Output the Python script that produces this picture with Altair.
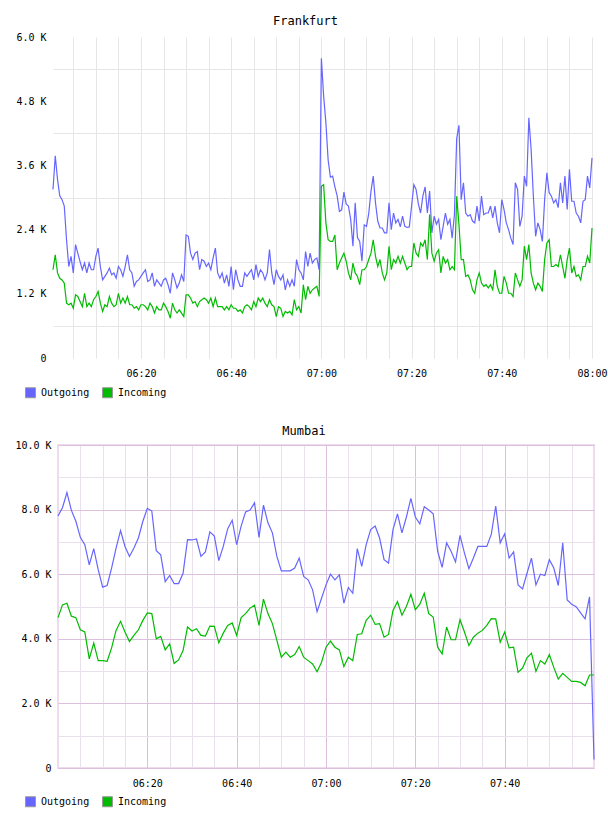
import altair as alt
import pandas as pd

SERIES = ["Outgoing", "Incoming"]
SERIES_COLORS = ["#6666ff", "#00bb00"]
FONT = "DejaVu Sans Mono"

# Frankfurt: one sample every 30 s, 06:00:30 .. 08:00:00
frankfurt_outgoing = [
    3150, 3780, 3340, 3030, 2960, 2840, 2210, 1710, 1900, 1590,
    2120, 1960, 1800, 1650, 1775, 1590, 1775, 1650, 1650, 1900,
    2055, 1710, 1460, 1525, 1590, 1680, 1555, 1590, 1490, 1710,
    1650, 1525, 1710, 1930, 1650, 1590, 1340, 1430, 1460, 1525,
    1590, 1650, 1430, 1460, 1590, 1340, 1460, 1400, 1340, 1460,
    1490, 1370, 1210, 1590, 1460, 1310, 1400, 1555, 1430, 2300,
    2275, 1960, 1840, 1960, 1990, 1650, 1840, 1810, 1710, 1775,
    1650, 1870, 2055, 1590, 1490, 1590, 1400, 1555, 1340, 1710,
    1275, 1650, 1460, 1340, 1340, 1590, 1525, 1590, 1650, 1460,
    1745, 1525, 1650, 1590, 1460, 1590, 2025, 1590, 1370, 1650,
    1525, 1460, 1555, 1275, 1460, 1340, 1460, 1340, 1840, 1650,
    1590, 1460, 1990, 1710, 1960, 1775, 1840, 1870, 1650, 5600,
    4900, 4400, 3700, 3380, 3400, 3200, 3030, 2740, 2770, 3100,
    2880, 2840, 2590, 2090, 2900, 2250, 2180, 1810, 2490, 2460,
    2700, 3120, 3400, 2900, 2560, 2430, 2430, 2340, 2340, 2900,
    2400, 2710, 2525, 2590, 2450, 2650, 2460, 2440, 2450, 2840,
    3240, 3150, 2880, 2710, 3025, 3200, 2710, 3120, 2340, 2650,
    2500, 2590, 2210, 2460, 2710, 2500, 2590, 2240, 2680, 4100,
    4350, 2960, 3275, 2710, 2650, 2680, 2560, 2525, 2840, 2560,
    3025, 2680, 2710, 2710, 2840, 2620, 2840, 2525, 2340, 2960,
    2775, 2525, 2400, 2240, 2120, 3275, 3150, 2460, 2650, 3400,
    3210, 4490, 3900, 3025, 2275, 2525, 2400, 2180, 2960, 3460,
    3090, 3025, 2900, 2960, 2810, 3275, 2900, 3400, 2775, 3525,
    2930, 2930, 2710, 2650, 2525, 2930, 2960, 3400, 3180, 3740,
]
frankfurt_incoming = [
    1650, 1930, 1590, 1490, 1460, 1400, 1025, 995, 1025, 930,
    1180, 1150, 1055, 960, 1210, 960, 1025, 960, 1090, 1150,
    1245, 1025, 870, 995, 960, 1150, 1025, 960, 995, 1210,
    1025, 1120, 1025, 1150, 995, 995, 930, 960, 900, 995,
    995, 960, 900, 1025, 960, 840, 960, 900, 900, 1025,
    960, 870, 745, 1025, 900, 840, 900, 840, 775, 1180,
    1180, 1120, 1025, 1055, 960, 1055, 1090, 1120, 1090, 1025,
    1120, 960, 1120, 960, 960, 960, 900, 960, 900, 995,
    930, 930, 870, 900, 840, 960, 995, 960, 900, 1055,
    960, 1120, 1055, 1120, 1025, 960, 1090, 995, 960, 775,
    960, 930, 775, 870, 840, 870, 805, 1090, 900, 960,
    840, 1370, 1090, 1340, 1210, 1275, 1310, 1340, 1150, 3210,
    3240, 2525, 2210, 2180, 2180, 2300, 1650, 1775, 1870, 1960,
    1810, 1590, 1460, 1775, 1590, 1525, 1370, 1650, 1650, 1710,
    1840, 1960, 2210, 1900, 1710, 1840, 1590, 1460, 1590, 2090,
    1650, 1840, 1775, 1900, 1775, 1900, 1775, 1650, 1710, 1710,
    2150, 1960, 1900, 2150, 2090, 2210, 1840, 2680, 1960, 1810,
    1960, 2025, 1590, 1900, 1775, 1840, 1650, 1710, 1650, 3025,
    2500, 1840, 1840, 1525, 1555, 1460, 1275, 1210, 1460, 1590,
    1400, 1340, 1370, 1310, 1370, 1275, 1650, 1340, 1210, 1210,
    1525, 1400, 1210, 1210, 1150, 1590, 1460, 1340, 1460, 2090,
    1840, 2120, 1590, 1400, 1275, 1400, 1340, 1245, 1840, 2150,
    2210, 1710, 1710, 1745, 1710, 1930, 1710, 1490, 1840, 2055,
    1590, 1710, 1525, 1555, 1460, 1710, 1710, 1900, 1775, 2430,
]

# Mumbai: one sample per minute, 06:00 .. 08:00
mumbai_outgoing = [
    7800, 8060, 8525, 7975, 7640, 7140, 6915, 6290, 6790, 6140,
    5600, 5650, 6190, 6810, 7350, 6860, 6550, 6810, 7120, 7640,
    8040, 7955, 6730, 6600, 5770, 5960, 5710, 5710, 6030, 7070,
    7060, 7090, 6550, 6690, 7310, 7180, 6420, 6860, 7410, 7670,
    6915, 7490, 7930, 7985, 8210, 7140, 8140, 7590, 7280, 6550,
    6105, 6105, 6105, 6190, 6500, 5930, 5825, 5515, 4840, 5255,
    5670, 6000, 5825, 5980, 5100, 5590, 5410, 6790, 6240, 6915,
    7380, 7490, 7120, 6450, 6345, 7380, 7870, 7280, 7770, 8350,
    7770, 7560, 8090, 7985, 7870, 6710, 6210, 6970, 6710, 6380,
    7205, 6655, 6170, 6500, 6860, 6860, 6860, 7230, 8110, 6970,
    7250, 6500, 6690, 5670, 5545, 6030, 6500, 5670, 6000, 5960,
    6450, 6190, 5650, 6970, 5200, 5070, 4995, 4800, 4620, 5300,
    260,
]
mumbai_incoming = [
    4655, 5050, 5100, 4700, 4655, 4280, 4210, 3380, 3865, 3325,
    3325, 3305, 3720, 4260, 4540, 4210, 3915, 4105, 4280, 4570,
    4800, 4780, 4000, 4075, 3655, 3845, 3240, 3345, 3635, 4365,
    4240, 4310, 4105, 4085, 4395, 4385, 3875, 4175, 4415, 4490,
    4105, 4655, 4780, 4950, 5040, 4415, 5230, 4780, 4470, 3950,
    3430, 3585, 3430, 3510, 3760, 3430, 3325, 3220, 2980, 3275,
    3740, 3930, 3740, 3655, 3140, 3430, 3325, 4135, 4155, 4570,
    4730, 4445, 4470, 4050, 4135, 4880, 5150, 4730, 5000, 5380,
    4900, 5070, 5410, 4780, 4675, 3740, 3530, 4365, 3970, 3970,
    4590, 4210, 3790, 4050, 4175, 4260, 4415, 4625, 4615, 3895,
    4210, 3720, 3740, 2960, 3095, 3410, 3555, 2990, 3325, 3220,
    3510, 3115, 2755, 2930, 2805, 2680, 2680, 2650, 2545, 2880,
    2880,
]


def clock(seconds):
    return (f"2024-01-01T{seconds // 3600:02d}:"
            f"{seconds % 3600 // 60:02d}:{seconds % 60:02d}Z")


frankfurt_times = [clock(6 * 3600 + 30 + 30 * i) for i in range(len(frankfurt_outgoing))]
mumbai_times = [clock(6 * 3600 + 60 * i) for i in range(len(mumbai_outgoing))]


def long_table(times, outgoing, incoming):
    return pd.DataFrame({
        "time": times + times,
        "series": ["Outgoing"] * len(times) + ["Incoming"] * len(times),
        "value": outgoing + incoming,
    })


def at(h, m, s=0):
    return alt.DateTime(year=2024, month=1, date=1, hours=h, minutes=m,
                        seconds=s, utc=True)


def five_minute_ticks(first, last):
    # minutes after 06:00
    return [at(6 + mm // 60, mm % 60) for mm in range(first, last + 1, 5)]


X_LABEL = "utcminutes(datum.value) % 20 == 0 ? utcFormat(datum.value, '%H:%M') : ''"


def k_label(step):
    return (f"datum.value % {step} == 0 ? (datum.value == 0 ? '0' : "
            "format(datum.value / 1000, '.1f') + ' K') : ''")


def series_layers(table, x, y):
    # one line per series, Outgoing underneath Incoming
    return [
        alt.Chart(table).transform_filter(alt.datum.series == name)
        .mark_line(color=col, strokeWidth=1.2).encode(x=x, y=y)
        for name, col in zip(SERIES, SERIES_COLORS)
    ]


def legend_layer(table, lx, ly):
    return alt.Chart(table).transform_filter("false").mark_square(
        size=100, stroke="#999999", strokeWidth=1, opacity=1
    ).encode(
        fill=alt.Fill(
            "series:N",
            scale=alt.Scale(domain=SERIES, range=SERIES_COLORS),
            legend=alt.Legend(
                orient="none", legendX=lx, legendY=ly, direction="horizontal",
                title=None, symbolType="square", symbolSize=100,
                symbolStrokeColor="#999999", symbolStrokeWidth=1, symbolOpacity=1,
                labelFont=FONT, labelFontSize=10, labelColor="#000000",
                labelOffset=5, columnPadding=10, padding=0,
            ),
        )
    )


# ---- Frankfurt ----
fra_table = long_table(frankfurt_times, frankfurt_outgoing, frankfurt_incoming)
FRA_GRID = "#e6e6e6"
fra_x = alt.X(
    "time:T",
    scale=alt.Scale(type="utc", domain=[at(6, 0, 30), at(8, 0)], range=[-5, 534]),
    axis=alt.Axis(values=five_minute_ticks(5, 120), labelExpr=X_LABEL,
                  grid=True, gridColor=FRA_GRID, ticks=False, domain=False,
                  labelPadding=10, labelFlush=False, labelOverlap=False, title=None),
)
fra_y = alt.Y(
    "value:Q",
    scale=alt.Scale(domain=[0, 6000], nice=False),
    axis=alt.Axis(values=list(range(0, 6001, 600)), labelExpr=k_label(1200),
                  grid=True, gridColor=FRA_GRID,
                  gridOpacity={"condition": {"test": "datum.value % 1200 == 0",
                                             "value": 0}, "value": 1},
                  ticks=False, domain=False, labelPadding=12,
                  labelOverlap=False, title=None),
)
frankfurt = alt.layer(
    *series_layers(fra_table, fra_x, fra_y), legend_layer(fra_table, -33, 350)
).properties(
    width=537, height=321,
    title=alt.Title("Frankfurt", font=FONT, fontSize=12, fontWeight="normal",
                    color="#000000", anchor="middle", dx=-21, offset=-5,
                    baseline="alphabetic"),
)

# ---- Mumbai ----
mum_table = long_table(mumbai_times, mumbai_outgoing, mumbai_incoming)
MUM_MAJOR = "#dcbfdc"
MUM_MINOR = "#e8e0ea"
mum_x = alt.X(
    "time:T",
    scale=alt.Scale(type="utc", domain=[at(6, 0), at(8, 0)]),
    axis=alt.Axis(values=five_minute_ticks(5, 115), labelExpr=X_LABEL,
                  grid=True,
                  gridColor={"condition": {"test": "utcminutes(datum.value) % 20 == 0",
                                           "value": MUM_MAJOR}, "value": MUM_MINOR},
                  ticks=False, domain=False,
                  labelPadding=10, labelFlush=False, labelOverlap=False, title=None),
)
mum_y = alt.Y(
    "value:Q",
    scale=alt.Scale(domain=[0, 10000], nice=False),
    axis=alt.Axis(values=list(range(0, 10001, 1000)), labelExpr=k_label(2000),
                  grid=True,
                  gridColor={"condition": {"test": "datum.value % 2000 == 0",
                                           "value": MUM_MAJOR}, "value": MUM_MINOR},
                  ticks=False, domain=False, labelPadding=7,
                  labelOverlap=False, title=None),
)
mumbai = alt.layer(
    *series_layers(mum_table, mum_x, mum_y), legend_layer(mum_table, -33, 351)
).properties(
    width=536, height=323,
    view=alt.ViewBackground(stroke="#eedcee", strokeWidth=2),
    title=alt.Title("Mumbai", font=FONT, fontSize=12, fontWeight="normal",
                    color="#000000", anchor="middle", dx=-22, offset=-7,
                    baseline="alphabetic"),
)

chart = alt.concat(frankfurt, mumbai, columns=1).properties(
    spacing=24,
    padding={"left": 13, "top": 15, "right": 0, "bottom": 0},
).resolve_scale(fill="independent").resolve_legend(fill="independent").configure_view(
    strokeWidth=0
).configure_axis(
    labelFont=FONT, labelFontSize=10, labelColor="#000000",
)

chart.save("out.html", embed_options={"renderer": "svg", "actions": False})
